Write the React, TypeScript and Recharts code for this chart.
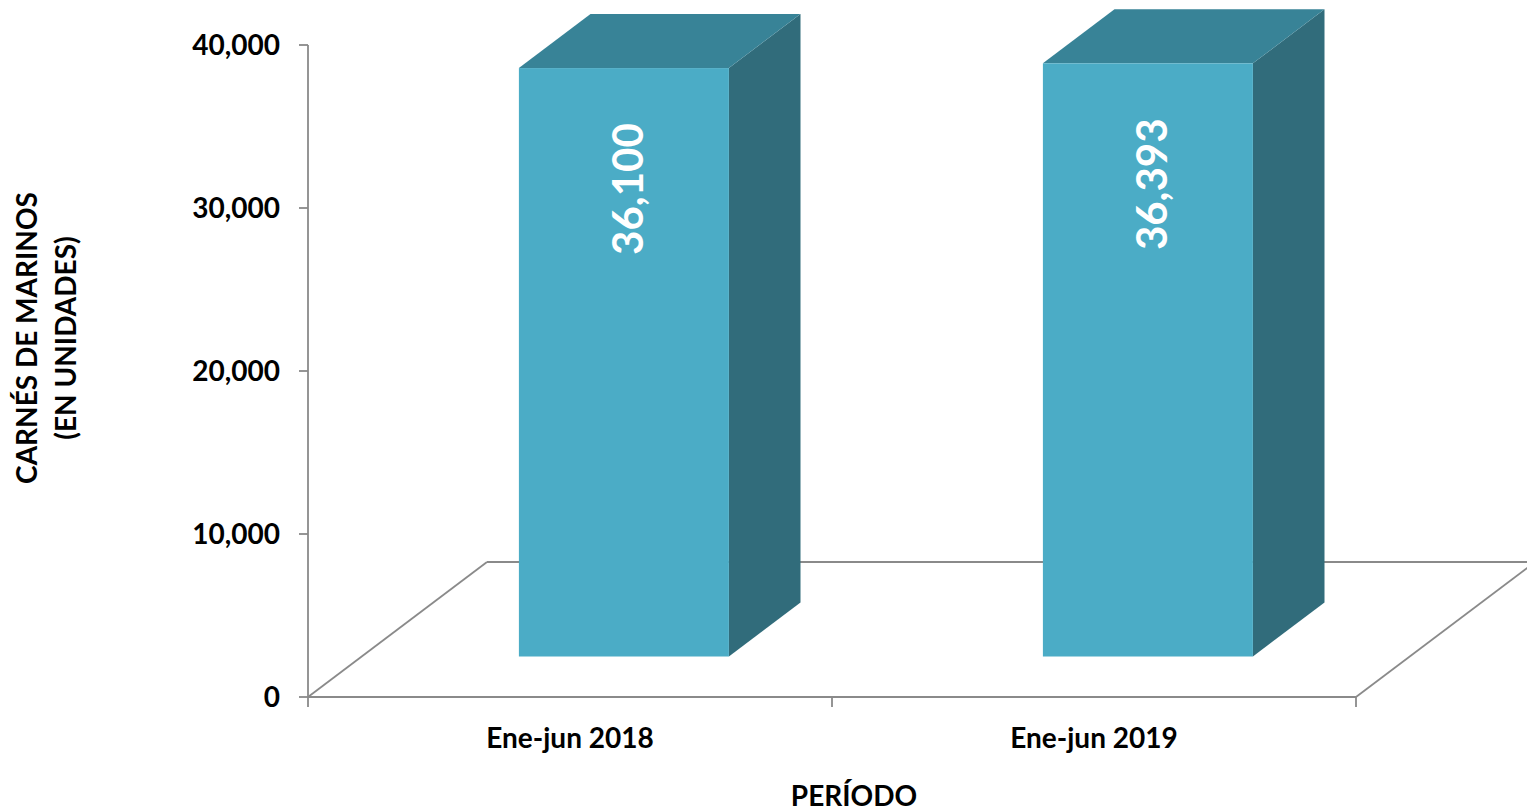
import React from 'react';
import * as RC from 'recharts';
import { BarChart, Bar, XAxis, YAxis, LabelList, Customized } from 'recharts';

// ---- data ----
const categories = ['Ene-jun 2018', 'Ene-jun 2019'];
const carnes = [36100, 36393];
const yTicks = [0, 10000, 20000, 30000, 40000];
const yTitleLines = ['CARNÉS DE MARINOS', '(EN UNIDADES)'];
const xTitle = 'PERÍODO';

const data = categories.map((c, i) => ({ periodo: c, carnes: carnes[i] }));

// ---- style ----
const FONT = 'Lato, "Open Sans", sans-serif';
const W = 1527;
const H = 811;
const MARGIN = { top: 45, right: 171, bottom: 0, left: 0 };
const Y_AXIS_W = 308;
const X_AXIS_H = 114;
const DEPTH_DX = 179;
const DEPTH_DY = 135;
const FRONT_F = 0.3;
const BACK_F = 0.7;
const AXIS_GRAY = '#8a8a8a';
const FRONT = '#4BACC6';
const TOP = '#388397';
const SIDE = '#316C7B';

const fmt = (v: number) => Number(v).toLocaleString('en-US');

const usePlot: any = (RC as any).usePlotArea;

function Box3D(props: any) {
  const { x, y, width, height } = props;
  if (x == null || y == null) return null;
  const fx = x + DEPTH_DX * FRONT_F;
  const fy = y - DEPTH_DY * FRONT_F;
  const ddx = DEPTH_DX * (BACK_F - FRONT_F);
  const ddy = DEPTH_DY * (BACK_F - FRONT_F);
  const bottom = fy + height;
  return (
    <g>
      <path
        d={`M${fx + width},${fy} L${fx + width + ddx},${fy - ddy} L${fx + width + ddx},${bottom - ddy} L${fx + width},${bottom} Z`}
        fill={SIDE}
      />
      <path
        d={`M${fx},${fy} L${fx + ddx},${fy - ddy} L${fx + width + ddx},${fy - ddy} L${fx + width},${fy} Z`}
        fill={TOP}
      />
      <rect x={fx} y={fy} width={width} height={height} fill={FRONT} />
    </g>
  );
}

function BarValueLabel(props: any) {
  const vb = props.viewBox || {};
  const x = props.x ?? vb.x;
  const y = props.y ?? vb.y;
  const width = props.width ?? vb.width;
  const value = props.value;
  if (x == null || y == null) return null;
  const cx = x + DEPTH_DX * FRONT_F + width / 2 + 19;
  const cy = y - DEPTH_DY * FRONT_F + 121;
  return (
    <text
      x={cx}
      y={cy}
      transform={`rotate(-90 ${cx} ${cy})`}
      textAnchor="middle"
      fill="#ffffff"
      fontFamily={FONT}
      fontWeight={700}
      fontSize={42}
    >
      {fmt(value)}
    </text>
  );
}

function Floor() {
  const pa = usePlot ? usePlot() : null;
  const x0 = pa ? pa.x : MARGIN.left + Y_AXIS_W;
  const y0 = pa ? pa.y : MARGIN.top;
  const w = pa ? pa.width : W - MARGIN.left - MARGIN.right - Y_AXIS_W;
  const h = pa ? pa.height : H - MARGIN.top - MARGIN.bottom - X_AXIS_H;
  const x1 = x0 + w;
  const yb = y0 + h;
  const n = categories.length;
  const bounds = Array.from({ length: n + 1 }, (_, i) => x0 + (w * i) / n);
  return (
    <g>
      <g stroke={AXIS_GRAY} strokeWidth={1.8} fill="none">
        <line x1={x0} y1={yb} x2={x0 + DEPTH_DX} y2={yb - DEPTH_DY} />
        <line x1={x0 + DEPTH_DX} y1={yb - DEPTH_DY} x2={x1 + DEPTH_DX} y2={yb - DEPTH_DY} />
        <line x1={x1} y1={yb} x2={x1 + DEPTH_DX} y2={yb - DEPTH_DY} />
        {bounds.map((bx, i) => (
          <line key={i} x1={bx} y1={yb} x2={bx} y2={yb + 10} />
        ))}
      </g>
    </g>
  );
}

function Titles() {
  const yc = 338;
  return (
    <g fontFamily={FONT} fontWeight={700} fontSize={28} fill="#000">
      <text x={37} y={yc} transform={`rotate(-90 37 ${yc})`} textAnchor="middle">
        {yTitleLines[0]}
      </text>
      <text x={76} y={yc} transform={`rotate(-90 76 ${yc})`} textAnchor="middle">
        {yTitleLines[1]}
      </text>
      <text x={854} y={806} textAnchor="middle">
        {xTitle}
      </text>
    </g>
  );
}

export default function App() {
  return (
    <div style={{ position: 'absolute', left: 0, top: 0, width: W, height: H, background: '#fff' }}>
      <BarChart width={W} height={H} data={data} margin={MARGIN} barCategoryGap="30%">
        <Customized component={<Floor />} />
        <XAxis
          dataKey="periodo"
          height={X_AXIS_H}
          axisLine={{ stroke: AXIS_GRAY, strokeWidth: 1.8 }}
          tickLine={false}
          tickSize={9}
          tickMargin={22}
          tick={{ fill: '#000', fontFamily: FONT, fontWeight: 700, fontSize: 28 }}
        />
        <YAxis
          width={Y_AXIS_W}
          domain={[0, 40000]}
          ticks={yTicks}
          interval={0}
          tickFormatter={fmt}
          axisLine={{ stroke: AXIS_GRAY, strokeWidth: 1.8 }}
          tickLine={{ stroke: AXIS_GRAY, strokeWidth: 1.8 }}
          tickSize={9}
          tickMargin={19}
          tick={{ fill: '#000', fontFamily: FONT, fontWeight: 700, fontSize: 28 }}
        />
        <Bar dataKey="carnes" shape={<Box3D />} isAnimationActive={false}>
          <LabelList dataKey="carnes" content={<BarValueLabel />} />
        </Bar>
        <Customized component={<Titles />} />
      </BarChart>
    </div>
  );
}
